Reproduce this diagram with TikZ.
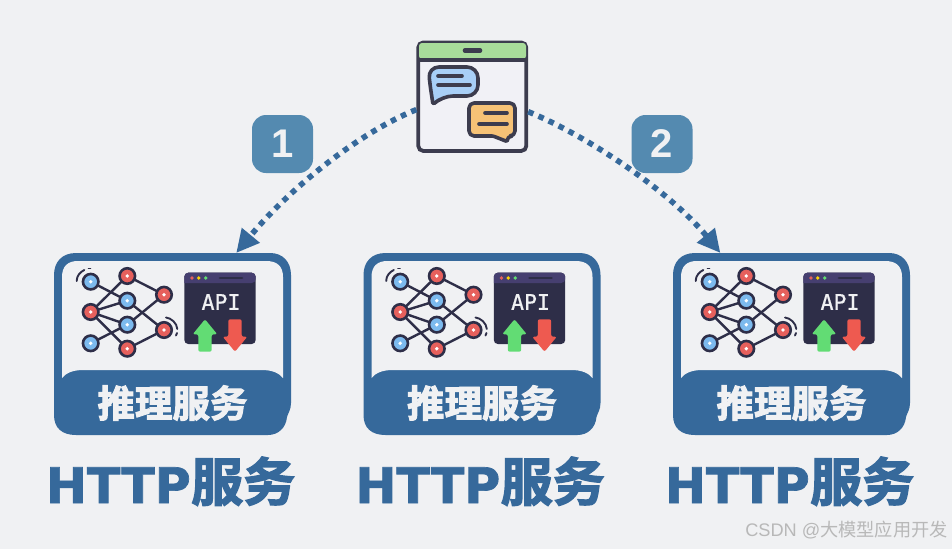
\documentclass[tikz,border=0pt]{standalone}
\usepackage{fontspec}
\setmainfont{Liberation Sans}
\newfontfamily\cjk{Noto Sans CJK SC}
\newfontfamily\cjkfat[FakeBold=2.6]{Noto Sans CJK SC Bold}
\newfontfamily\latinfat[FakeBold=1.4]{DejaVu Sans Bold}
\newfontfamily\monofat[FakeBold=0.8]{DejaVu Sans Mono}
\usetikzlibrary{arrows.meta}
\definecolor{pagebg}{HTML}{F0F1F3}
\definecolor{cardblue}{HTML}{36699B}
\definecolor{badgeblue}{HTML}{548AB0}
\definecolor{inkdark}{HTML}{2E2E48}
\definecolor{winstroke}{HTML}{3C3C4E}
\definecolor{winfill}{HTML}{F1F1F6}
\definecolor{wingreen}{HTML}{A8DC9A}
\definecolor{chatblue}{HTML}{A8CFF7}
\definecolor{chatorange}{HTML}{F6C276}
\definecolor{netblue}{HTML}{7CBAEE}
\definecolor{netred}{HTML}{E6605C}
\definecolor{apibar}{HTML}{463F70}
\definecolor{upgreen}{HTML}{62DC74}
\definecolor{downred}{HTML}{EE5A50}
\tikzset{
  netnode/.style={circle, draw=inkdark, line width=2.6pt, minimum size=15.5pt, inner sep=0pt, outer sep=0pt},
  netedge/.style={draw=inkdark, line width=2.4pt},
  badgebox/.style={fill=badgeblue, rounded corners=14pt, minimum width=61pt, minimum height=58pt,
    text=pagebg, font=\fontsize{40}{40}\selectfont\bfseries},
  dotflow/.style={draw=cardblue, line width=5.6pt, dash pattern=on 5.6pt off 5.6pt,
    -{Triangle[length=23pt,width=22pt,fill=cardblue]}},
  bubble/.style={draw=winstroke, line width=3.6pt, line join=round},
  infercard/.pic={
    \node [minimum width=237pt, minimum height=182pt, inner sep=0pt, outer sep=0pt] (-frame) at (172.5, 344) {};
    \fill [cardblue] (54, 275) .. controls (54, 262) and (62, 253) .. (76, 253) -- (270, 253)
      .. controls (283, 253) and (291, 262) .. (291, 275) -- (291, 403)
      .. controls (291, 410) and (288, 413) .. (287, 417)
      .. controls (286, 428) and (278, 435) .. (268, 435) -- (76, 435)
      .. controls (62, 435) and (54, 428) .. (54, 415) -- cycle;
    \fill [pagebg] (62, 378) -- (62, 277) .. controls (62, 266) and (68, 261) .. (78, 261) -- (266, 261)
      .. controls (277, 261) and (283, 266) .. (283, 277) -- (283, 378)
      .. controls (279, 373) and (272, 370) .. (262, 370) -- (83, 370)
      .. controls (73, 370) and (66, 373) .. (62, 378) -- cycle;
    % network
    \node [netnode, fill=netblue] (-a1) at (90.7, 281.7) {};
    \node [netnode, fill=netred] (-a2) at (90.7, 312) {};
    \node [netnode, fill=netblue] (-a3) at (90.7, 343.3) {};
    \node [netnode, fill=netred] (-b1) at (127.3, 276) {};
    \node [netnode, fill=netblue] (-b2) at (127.3, 300.7) {};
    \node [netnode, fill=netblue] (-b3) at (127.3, 324.7) {};
    \node [netnode, fill=netred] (-b4) at (127.3, 348.7) {};
    \node [netnode, fill=netred] (-c1) at (164, 294.7) {};
    \node [netnode, fill=netred] (-c2) at (164, 330) {};
    \foreach \from/\to in {a1/b2, a2/b1, a2/b2, a2/b3, a2/b4, a3/b3, b1/c1, b2/c2, b3/c1, b4/c2}
      \draw [netedge] (-\from) -- (-\to);
    \foreach \dotname in {a1, a2, a3, b1, b2, b3, b4, c1, c2}
      \fill [white] (-\dotname) circle (1.9);
    \draw [inkdark, line width=1.9pt, line cap=round] (76.7, 281) .. controls (76.7, 276) and (80, 272) .. (84.3, 270);
    \draw [inkdark, line width=1.9pt, line cap=round] (88.5, 268.5) -- (90.5, 268.5);
    \draw [inkdark, line width=1.9pt, line cap=round] (166, 317.5) .. controls (171, 318) and (177, 323) .. (177.3, 329);
    \draw [inkdark, line width=1.9pt, line cap=round] (177, 333) -- (176, 335.5);
    % api window
    \fill [inkdark, rounded corners=4pt] (184.3, 272.7) rectangle (255.7, 344);
    \fill [apibar, rounded corners=4pt] (184.3, 283) -- (184.3, 272.7) -- (255.7, 272.7) -- (255.7, 283) [sharp corners] -- cycle;
    \fill [netred] (192, 278) circle (1.9);
    \fill [yellow!70!orange] (198.7, 278) circle (1.9);
    \fill [upgreen] (205.7, 278) circle (1.9);
    \draw [inkdark, line width=2.8pt, line cap=round] (220, 278) -- (242, 278);
    \node [text=pagebg, font=\monofat\fontsize{21.5}{21.5}\selectfont, inner sep=0pt] (-api) at (221, 302) {API};
    \fill [upgreen, rounded corners=2pt] (205, 319.3) -- (217.3, 334.3) -- (211.7, 334.3) -- (211.7, 351.7) -- (198.3, 351.7) -- (198.3, 334.3) -- (192.7, 334.3) -- cycle;
    \fill [downred, rounded corners=2pt] (235, 351.7) -- (247.3, 336.7) -- (241.7, 336.7) -- (241.7, 319.3) -- (228.3, 319.3) -- (228.3, 336.7) -- (222.7, 336.7) -- cycle;
    % labels
    \node [text=pagebg, font=\cjkfat\fontsize{37.5}{37.5}\selectfont, inner sep=0pt] (-title) at (172.5, 403) {推理服务};
    \node [text=cardblue, font=\latinfat\fontsize{49}{49}\selectfont, inner sep=0pt, anchor=base east] (-http) at (191, 503) {HTTP};
    \node [text=cardblue, font=\cjkfat\fontsize{52}{52}\selectfont, inner sep=0pt, anchor=base west] (-serv) at (191, 501) {服务};
  }
}
\begin{document}
\begin{tikzpicture}[x=1pt, y=-1pt]
  \useasboundingbox (0, 0) rectangle (952, 549);
  \fill [pagebg] (0, 0) rectangle (952, 549);

  \pic (card1) at (0, 0) {infercard};
  \pic (card2) at (309.5, 0) {infercard};
  \pic (card3) at (619, 0) {infercard};

  % chat window
  \node [draw=winstroke, fill=winfill, line width=3.8pt, rounded corners=5pt, minimum width=108pt,
    minimum height=108.5pt, inner sep=0pt, outer sep=1.9pt] (chatwin) at (472.3, 96.7) {};
  \fill [wingreen, rounded corners=3pt] (419, 43) rectangle (526, 59);
  \draw [winstroke, line width=3.6pt] (418, 60) -- (527, 60);
  \draw [winstroke, line width=4.6pt, line cap=round] (465, 50.5) -- (480, 50.5);
  \draw [bubble, fill=chatblue, rounded corners=11pt] (455, 67) -- (478, 67) -- (478, 96) -- (442, 96)
    [rounded corners=1.5pt] -- (433, 104.5) -- (430.5, 88) [rounded corners=11pt] -- (428, 67) -- cycle;
  \draw [winstroke, line width=3.6pt, line cap=round] (438, 76) -- (462, 76);
  \draw [winstroke, line width=3.6pt, line cap=round] (438, 85) -- (470, 85);
  \draw [bubble, fill=chatorange, rounded corners=5pt] (490, 103) -- (515, 103) -- (515, 136) -- (507, 136)
    [rounded corners=1pt] -- (507, 141.5) -- (493, 136) [rounded corners=5pt] -- (469, 136) -- (469, 103) -- cycle;
  \draw [winstroke, line width=3.6pt, line cap=round] (485, 113) -- (507, 113);
  \draw [winstroke, line width=3.6pt, line cap=round] (479, 124) -- (507, 124);

  % badges
  \node [badgebox] (badge1) at (282.5, 144) {\raisebox{-3pt}{1}};
  \node [badgebox] (badge2) at (662, 144) {\raisebox{-3pt}{2}};

  \draw [dotflow] (chatwin.193) .. controls (360, 132) and (290, 188) .. (card1-frame.55);
  \draw [dotflow] (chatwin.-15) .. controls (592, 138) and (672, 194) .. (card3-frame.128);

  \node [text=black!28, font=\fontsize{18.2}{18.2}\selectfont, inner sep=0pt] (mark) at (846.5, 530) {CSDN @{\cjk 大模型应用开发}};
\end{tikzpicture}
\end{document}
